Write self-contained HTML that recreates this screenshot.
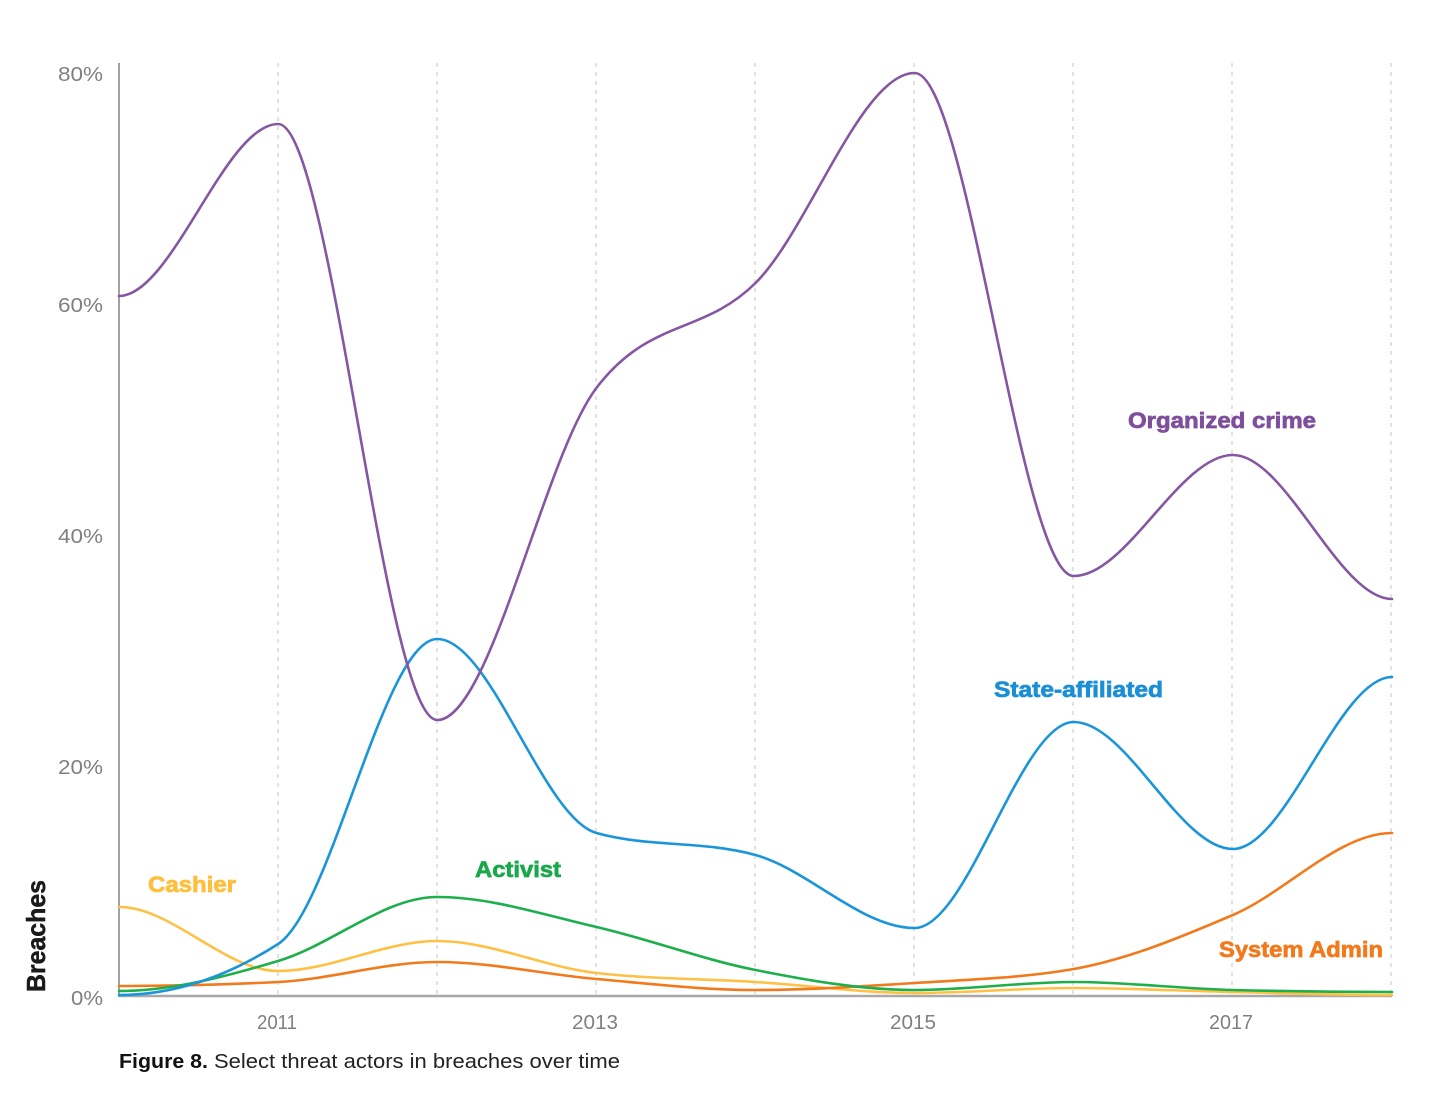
<!DOCTYPE html>
<html>
<head>
<meta charset="utf-8">
<style>
  html, body { margin:0; padding:0; background:#ffffff; }
  body { width:1456px; height:1118px; overflow:hidden; }
  svg { display:block; }
  .tick { font-family:"Liberation Sans", Arial, sans-serif; font-size:20px; fill:#808080; }
  .lbl { font-family:"Liberation Sans", Arial, sans-serif; font-size:22px; font-weight:bold; stroke-width:0.7; }
</style>
</head>
<body>
<svg id="chart" width="1456" height="1118" viewBox="0 0 1456 1118" xmlns="http://www.w3.org/2000/svg">
  <rect x="0" y="0" width="1456" height="1118" fill="#ffffff"/>
  <!-- vertical dashed gridlines -->
  <g stroke="#d9d9d9" stroke-width="1.5" stroke-dasharray="4 5" fill="none">
    <line x1="278" y1="63" x2="278" y2="995"/>
    <line x1="437" y1="63" x2="437" y2="995"/>
    <line x1="596" y1="63" x2="596" y2="995"/>
    <line x1="755" y1="63" x2="755" y2="995"/>
    <line x1="914" y1="63" x2="914" y2="995"/>
    <line x1="1073" y1="63" x2="1073" y2="995"/>
    <line x1="1232" y1="63" x2="1232" y2="995"/>
    <line x1="1391" y1="63" x2="1391" y2="995"/>
  </g>
  <!-- axes -->
  <line x1="119" y1="63" x2="119" y2="997" stroke="#8a8a8a" stroke-width="1.6"/>
  <line x1="118" y1="996" x2="1392" y2="996" stroke="#a8a8a8" stroke-width="2.4"/>

  <!-- y tick labels -->
  <text class="tick" x="103" y="81" text-anchor="end" textLength="45" lengthAdjust="spacingAndGlyphs">80%</text>
  <text class="tick" x="103" y="312" text-anchor="end" textLength="45" lengthAdjust="spacingAndGlyphs">60%</text>
  <text class="tick" x="103" y="543" text-anchor="end" textLength="45" lengthAdjust="spacingAndGlyphs">40%</text>
  <text class="tick" x="103" y="774" text-anchor="end" textLength="45" lengthAdjust="spacingAndGlyphs">20%</text>
  <text class="tick" x="103" y="1005" text-anchor="end" textLength="32" lengthAdjust="spacingAndGlyphs">0%</text>

  <!-- x tick labels -->
  <text class="tick" x="277" y="1029" text-anchor="middle" textLength="40" lengthAdjust="spacingAndGlyphs">2011</text>
  <text class="tick" x="595" y="1029" text-anchor="middle" textLength="46" lengthAdjust="spacingAndGlyphs">2013</text>
  <text class="tick" x="913" y="1029" text-anchor="middle" textLength="46" lengthAdjust="spacingAndGlyphs">2015</text>
  <text class="tick" x="1231" y="1029" text-anchor="middle" textLength="44" lengthAdjust="spacingAndGlyphs">2017</text>

  <!-- Breaches axis title -->
  <text transform="translate(45,936) rotate(-90)" x="0" y="0" text-anchor="middle"
        font-family="Liberation Sans, Arial, sans-serif" font-size="26" font-weight="bold" fill="#1a1a1a"
        stroke="#1a1a1a" stroke-width="0.5"
        textLength="112" lengthAdjust="spacingAndGlyphs">Breaches</text>

  <!-- series -->
  <g fill="none" stroke-width="2.6" stroke-linejoin="round" stroke-linecap="round">
    <path id="s_yellow" stroke="#ffc145"/>
    <path id="s_orange" stroke="#f27a1c"/>
    <path id="s_green" stroke="#1daf4b"/>
    <path id="s_blue" stroke="#1b95da"/>
    <path id="s_purple" stroke="#8557a3"/>
  </g>

  <!-- series labels -->
  <text class="lbl" x="1128" y="428" fill="#7f4f9c" stroke="#7f4f9c" textLength="188" lengthAdjust="spacingAndGlyphs">Organized crime</text>
  <text class="lbl" x="994" y="697" fill="#1b8fd6" stroke="#1b8fd6" textLength="169" lengthAdjust="spacingAndGlyphs">State-affiliated</text>
  <text class="lbl" x="475" y="877" fill="#1aa84a" stroke="#1aa84a" textLength="86" lengthAdjust="spacingAndGlyphs">Activist</text>
  <text class="lbl" x="148" y="892" fill="#ffbf3c" stroke="#ffbf3c" textLength="88" lengthAdjust="spacingAndGlyphs">Cashier</text>
  <text class="lbl" x="1219" y="957" fill="#f27a1c" stroke="#f27a1c" textLength="164" lengthAdjust="spacingAndGlyphs">System Admin</text>

  <!-- caption -->
  <text x="119" y="1068" font-family="Liberation Sans, Arial, sans-serif" font-size="20" font-weight="bold" fill="#111"
        textLength="89" lengthAdjust="spacingAndGlyphs">Figure 8.</text>
  <text x="214" y="1068" font-family="Liberation Sans, Arial, sans-serif" font-size="20" fill="#222"
        textLength="406" lengthAdjust="spacingAndGlyphs">Select threat actors in breaches over time</text>
</svg>
<script>
(function(){
  var xs = [];
  for (var i = 0; i < 9; i++) xs.push(119 + i * 159.125);
  var data = {
    s_purple: [296,124,720,388,283,73,576,455,599],
    s_blue:   [995,944,639,833,855,928,722,849,677],
    s_green:  [991,961,897,927,970,990,982,990,992],
    s_yellow: [907,971,941,973,982,993,988,992,995],
    s_orange: [986,982,962,979,990,983,969,915,833]
  };
  function sign(v){ return v < 0 ? -1 : 1; }
  function monotone(x, y){
    var n = x.length, m = new Array(n);
    for (var i = 1; i < n - 1; i++) {
      var h0 = x[i]-x[i-1], h1 = x[i+1]-x[i];
      var s0 = (y[i]-y[i-1])/h0, s1 = (y[i+1]-y[i])/h1;
      var p = (s0*h1 + s1*h0)/(h0+h1);
      m[i] = (sign(s0)+sign(s1)) * Math.min(Math.abs(s0), Math.abs(s1), 0.5*Math.abs(p)) || 0;
    }
    m[0] = 0;
    m[n-1] = 0;
    var d = "M" + x[0].toFixed(2) + "," + y[0].toFixed(2);
    for (var k = 0; k < n - 1; k++) {
      var dx = (x[k+1]-x[k])/3;
      d += "C" + (x[k]+dx).toFixed(2) + "," + (y[k]+dx*m[k]).toFixed(2) + " " +
           (x[k+1]-dx).toFixed(2) + "," + (y[k+1]-dx*m[k+1]).toFixed(2) + " " +
           x[k+1].toFixed(2) + "," + y[k+1].toFixed(2);
    }
    return d;
  }
  for (var key in data) {
    document.getElementById(key).setAttribute("d", monotone(xs, data[key]));
  }
})();
</script>
</body>
</html>
